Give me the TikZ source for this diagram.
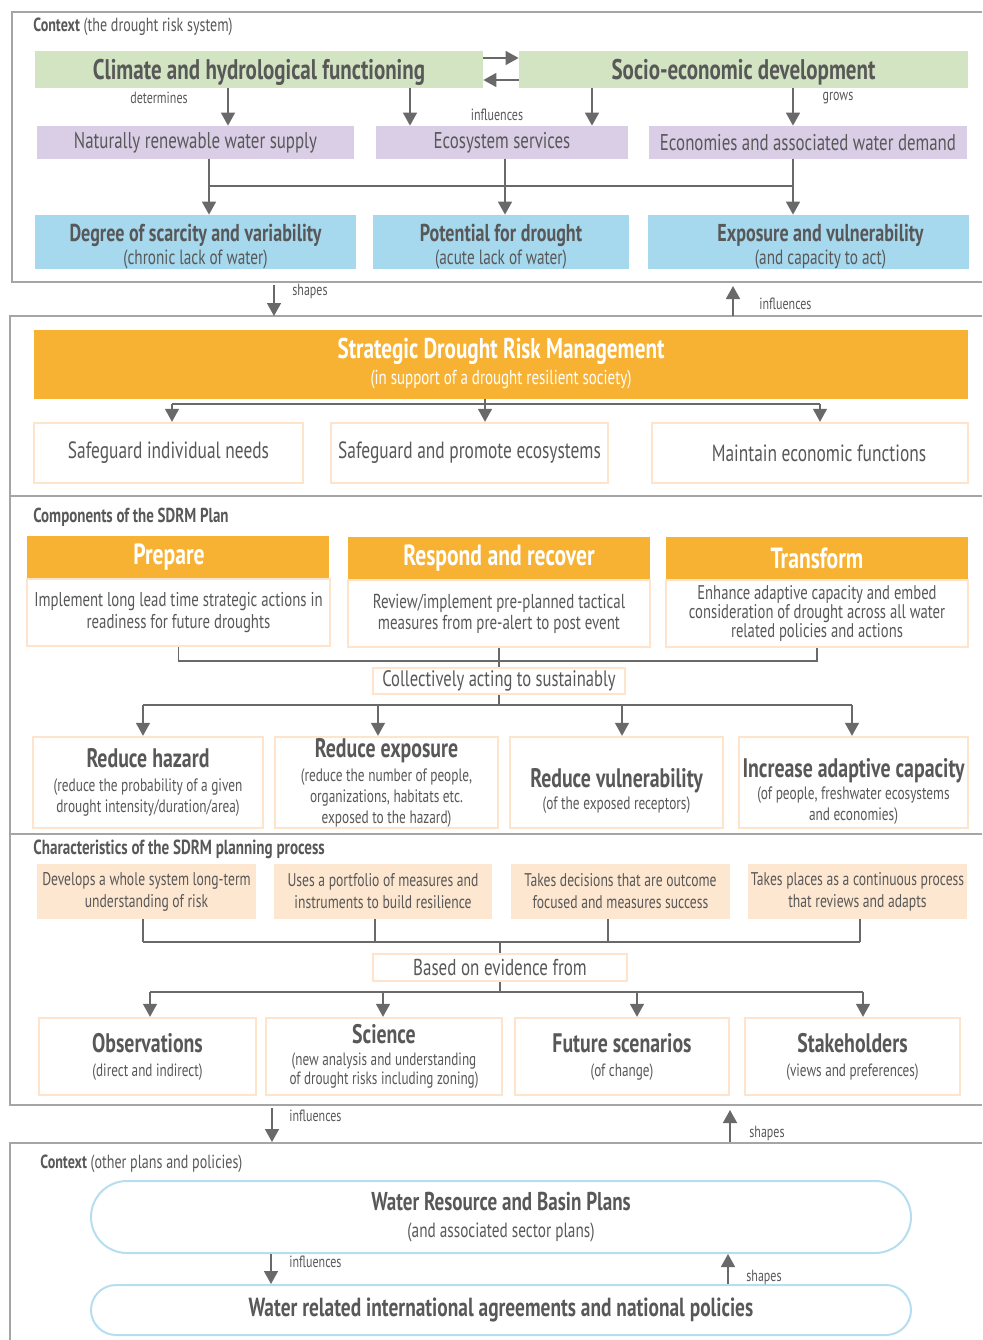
\documentclass[tikz,border=0pt]{standalone}
\usepackage{fontspec}
\setmainfont[FakeStretch=0.74]{PT Sans}
\usetikzlibrary{arrows.meta}

\definecolor{txtgray}{RGB}{88,88,88}
\definecolor{linegray}{RGB}{105,105,105}
\definecolor{framegray}{RGB}{165,165,165}
\definecolor{climgreen}{RGB}{211,228,194}
\definecolor{supplilac}{RGB}{217,206,230}
\definecolor{riskblue}{RGB}{166,216,238}
\definecolor{sdrmorange}{RGB}{247,178,52}
\definecolor{paleorange}{RGB}{253,228,202}
\definecolor{peach}{RGB}{253,231,208}
\definecolor{planblue}{RGB}{182,221,240}

\tikzset{
  every node/.style={text=txtgray, inner sep=0pt, align=center},
  arr/.style={draw=linegray, line width=0.8pt, -{Triangle[width=7pt,length=6.5pt]}},
  conn/.style={draw=linegray, line width=0.8pt},
  frame/.style={draw=framegray, line width=1pt},
  lbl/.style={font=\fontsize{8.1}{10}\selectfont},
  seclbl/.style={anchor=west, font=\fontsize{9.5}{11}\selectfont},
  ctxbox/.style={fill=climgreen, minimum height=18.5pt, font=\bfseries\fontsize{14.2}{15}\selectfont},
  supbox/.style={fill=supplilac, minimum height=16.5pt, font=\fontsize{11.4}{13}\selectfont},
  riskbox/.style={fill=riskblue, minimum height=27pt, font=\fontsize{10.3}{11}\selectfont},
  headbox/.style={fill=sdrmorange, text=white, minimum height=21.5pt, font=\bfseries\fontsize{14.6}{16}\selectfont},
  outbox/.style={draw=paleorange, line width=1.2pt, fill=white},
  charbox/.style={fill=peach, minimum height=27.5pt, font=\fontsize{9.2}{11}\selectfont},
  planbox/.style={draw=planblue, line width=1pt, minimum width=410pt}
}
\newcommand\boxhead[2][13.4]{{\bfseries\fontsize{#1}{#1}\selectfont #2}}

\begin{document}
\begin{tikzpicture}[x=0.5pt,y=-0.5pt]
\useasboundingbox (0,0) rectangle (982,1340);

% frames
\draw[frame] (982,12) -| (12,282) -- (982,282);
\draw[frame] (982,316) -| (10,1105) -- (982,1105);
\draw[frame] (10,496) -- (982,496);
\draw[frame] (10,834) -- (982,834);
\draw[frame] (982,1143) -| (10,1345);

% context: the drought risk system
\node[seclbl] (ctxlab) at (33,27) {\textbf{Context} (the drought risk system)};
\node[ctxbox, minimum width=224pt] (clim) at (259,69.5) {\rule{0pt}{13.2pt}Climate and hydrological functioning};
\node[ctxbox, minimum width=224.5pt] (socio) at (743.5,69.5) {\rule{0pt}{13.2pt}Socio-economic development};
\node[supbox, minimum width=158.5pt] (supply) at (195.5,142.5) {Naturally renewable water supply};
\node[supbox, minimum width=126pt] (ecos) at (502,142.5) {Ecosystem services};
\node[supbox, minimum width=159pt] (econ) at (808,142.5) {Economies and associated water demand};
\node[riskbox, minimum width=160.5pt] (scarc) at (195.5,242)
  {\rule{0pt}{13pt}\boxhead[12.2]{Degree of scarcity and variability}\\[0.5pt](chronic lack of water)};
\node[riskbox, minimum width=128pt] (potent) at (501,242)
  {\rule{0pt}{13pt}\boxhead[12.2]{Potential for drought}\\[0.5pt](acute lack of water)};
\node[riskbox, minimum width=160.5pt] (expos) at (808.5,242)
  {\rule{0pt}{13pt}\hspace*{12pt}\boxhead[12.2]{Exposure and vulnerability}\\[0.5pt]\hspace*{12pt}(and capacity to act)};

\draw[arr] (clim.east |- 0,58) -- (socio.west |- 0,58);
\draw[arr] (socio.west |- 0,80) -- (clim.east |- 0,80);
\draw[arr] (228,0 |- clim.south) -- (228,0 |- supply.north);
\draw[arr] (410,0 |- clim.south) -- (410,0 |- ecos.north);
\draw[arr] (592,0 |- socio.south) -- (592,0 |- ecos.north);
\draw[arr] (793,0 |- socio.south) -- (793,0 |- econ.north);
\node[lbl] (detlab) at (159,98) {determines};
\node[lbl] (inflab) at (497,115) {influences};
\node[lbl] (growlab) at (838,98) {grows};

\draw[arr] (209,0 |- supply.south) -- (209,0 |- scarc.north);
\draw[arr] (505,0 |- ecos.south) -- (505,0 |- potent.north);
\draw[arr] (793,0 |- econ.south) -- (793,0 |- expos.north);
\draw[conn] (209,186) -- (793,186);

\draw[arr] (274,285) -- (274,316);
\node[lbl, anchor=west] (shplab) at (292,291) {shapes};
\draw[arr] (733,316) -- (733,286);
\node[lbl, anchor=west] (inflab2) at (759,304) {influences};

% strategic drought risk management
\node[headbox, minimum width=467pt, minimum height=34.5pt, font=\bfseries\fontsize{14.3}{13}\selectfont] (sdrm) at (501,364)
  {Strategic Drought Risk Management\\{\mdseries\fontsize{10.1}{11}\selectfont(in support of a drought resilient society)}};
\node[outbox, minimum width=134.5pt, minimum height=30pt, font=\fontsize{11.75}{13}\selectfont] (need1) at (168.5,453) {Safeguard individual needs};
\node[outbox, minimum width=138.5pt, minimum height=30pt, font=\fontsize{11.75}{13}\selectfont] (need2) at (469.5,453) {Safeguard and promote ecosystems};
\node[outbox, minimum width=158pt, minimum height=30pt, font=\fontsize{11.75}{13}\selectfont] (need3) at (810,453) {\hspace*{9pt}Maintain economic functions};
\draw[conn] (485,0 |- sdrm.south) -- (485,404);
\draw[conn] (172,404) -- (820,404);
\foreach \x/\n in {172/need1,485/need2,820/need3}
  \draw[arr] (\x,404) -- (\x,0 |- \n.north);

% components of the plan
\node[seclbl, font=\bfseries\fontsize{10.1}{11}\selectfont] (complab) at (33,517) {Components of the SDRM Plan};
\node[headbox, minimum width=151pt] (prep) at (178,557.5) {\hspace*{-9pt}Prepare};
\node[headbox, minimum width=151pt] (resp) at (499,558.5) {Respond and recover};
\node[headbox, minimum width=151pt] (trans) at (817,558.5) {Transform};
\node[outbox, minimum width=151.5pt, minimum height=33.5pt, font=\fontsize{10}{11}\selectfont] (prepb) at (178.5,612.5)
  {Implement long lead time strategic actions in\\readiness for future droughts};
\node[outbox, minimum width=151pt, minimum height=33.5pt, font=\fontsize{10.1}{10.5}\selectfont] (respb) at (499,613.5)
  {Review/implement pre-planned tactical\\measures from pre-alert to post event};
\node[outbox, minimum width=151pt, minimum height=33.5pt, font=\fontsize{9.9}{9.6}\selectfont] (transb) at (817,613.5)
  {Enhance adaptive capacity and embed\\consideration of drought across all water\\related policies and actions};
\node[outbox, minimum width=126pt, minimum height=13pt, font=\fontsize{11.2}{12}\selectfont] (collect) at (499,681) {Collectively acting to sustainably};
\draw[conn] (prepb.south) |- (transb.south |- 0,661) -- (transb.south);
\draw[conn] (respb.south) -- (collect.north);
\draw[conn] (collect.south) -- (499,705);
\draw[conn] (143,705) -- (852,705);

\node[outbox, minimum width=115pt, minimum height=45.5pt, font=\fontsize{9}{10.5}\selectfont] (hazard) at (148,782.5)
  {\boxhead{Reduce hazard}\\[1.5pt](reduce the probability of a given\\drought intensity/duration/area)};
\node[outbox, minimum width=111.5pt, minimum height=45.5pt, font=\fontsize{9}{10.5}\selectfont] (expo) at (386.5,782.5)
  {\boxhead{Reduce exposure}\\[1.5pt](reduce the number of people,\\organizations, habitats etc.\\exposed to the hazard)};
\node[outbox, minimum width=106.5pt, minimum height=45.5pt, font=\fontsize{9}{10.5}\selectfont] (vuln) at (616.5,782.5)
  {\rule{0pt}{17.5pt}\boxhead{Reduce vulnerability}\\[0.5pt](of the exposed receptors)};
\node[outbox, minimum width=114.5pt, minimum height=45.5pt, font=\fontsize{9}{10.5}\selectfont] (adapt) at (853.5,782.5)
  {\rule{0pt}{18pt}\boxhead{Increase adaptive capacity}\\[0.5pt](of people, freshwater ecosystems\\and economies)};
\foreach \x/\n in {143/hazard,378/expo,622/vuln,852/adapt}
  \draw[arr] (\x,705) -- (\x,0 |- \n.north);

% characteristics of the planning process
\node[seclbl, font=\bfseries\fontsize{10.2}{11}\selectfont] (charlab) at (33,849) {Characteristics of the SDRM planning process};
\node[charbox, minimum width=109.5pt] (char1) at (146.5,891.5) {Develops a whole system long-term\\understanding of risk};
\node[charbox, minimum width=109pt] (char2) at (383,891.5) {Uses a portfolio of measures and\\instruments to build resilience};
\node[charbox, minimum width=109.5pt] (char3) at (620.5,891.5) {Takes decisions that are outcome\\focused and measures success};
\node[charbox, minimum width=109.5pt] (char4) at (857.5,891.5) {Takes places as a continuous process\\that reviews and adapts};
\foreach \x/\n in {143/char1,375/char2,608/char3,860/char4}
  \draw[conn] (\x,0 |- \n.south) -- (\x,942);
\draw[conn] (143,942) -- (860,942);
\node[outbox, minimum width=127pt, minimum height=13.5pt, font=\fontsize{11.5}{13}\selectfont] (evid) at (500,967.5) {Based on evidence from};
\draw[conn] (500,942) -- (evid.north);
\draw[conn] (evid.south) -- (500,992);
\draw[conn] (150,992) -- (863,992);

\node[outbox, minimum width=108.5pt, minimum height=38.5pt, font=\fontsize{8.9}{9.5}\selectfont] (obs) at (147.5,1056.5)
  {\boxhead{Observations}\\[2.5pt](direct and indirect)};
\node[outbox, minimum width=118pt, minimum height=38.5pt, font=\fontsize{8.9}{9.5}\selectfont] (sci) at (384,1056.5)
  {\boxhead{Science}\\[1.5pt](new analysis and understanding\\of drought risks including zoning)};
\node[outbox, minimum width=107pt, minimum height=38.5pt, font=\fontsize{8.9}{9.5}\selectfont] (fut) at (622,1056.5)
  {\boxhead{Future scenarios}\\[2.5pt](of change)};
\node[outbox, minimum width=107.5pt, minimum height=38.5pt, font=\fontsize{8.9}{9.5}\selectfont] (stake) at (852.5,1056.5)
  {\boxhead{Stakeholders}\\[2.5pt](views and preferences)};
\foreach \x/\n in {150/obs,383/sci,637/fut,863/stake}
  \draw[arr] (\x,992) -- (\x,0 |- \n.north);

\draw[arr] (272,1108) -- (272,1142);
\node[lbl, anchor=west] (inflab3) at (289,1116) {influences};
\draw[arr] (730,1142) -- (730,1110);
\node[lbl, anchor=west] (shplab2) at (749,1133) {shapes};

% context: other plans and policies
\node[seclbl] (ctxlab2) at (40,1164) {\textbf{Context} (other plans and policies)};
\node[planbox, minimum height=36pt, rounded corners=18pt, font=\fontsize{10.3}{11}\selectfont] (wrbp) at (501,1217)
  {\boxhead[12.9]{Water Resource and Basin Plans}\\[2.5pt](and associated sector plans)};
\node[planbox, minimum height=25pt, rounded corners=12.5pt, font=\bfseries\fontsize{13.1}{14}\selectfont] (water) at (501,1310)
  {Water related international agreements and national policies};
\draw[arr] (271,0 |- wrbp.south) -- (271,0 |- water.north);
\node[lbl, anchor=west] (inflab4) at (289,1262) {influences};
\draw[arr] (728,0 |- water.north) -- (728,0 |- wrbp.south);
\node[lbl, anchor=west] (shplab3) at (746,1277) {shapes};
\end{tikzpicture}
\end{document}
